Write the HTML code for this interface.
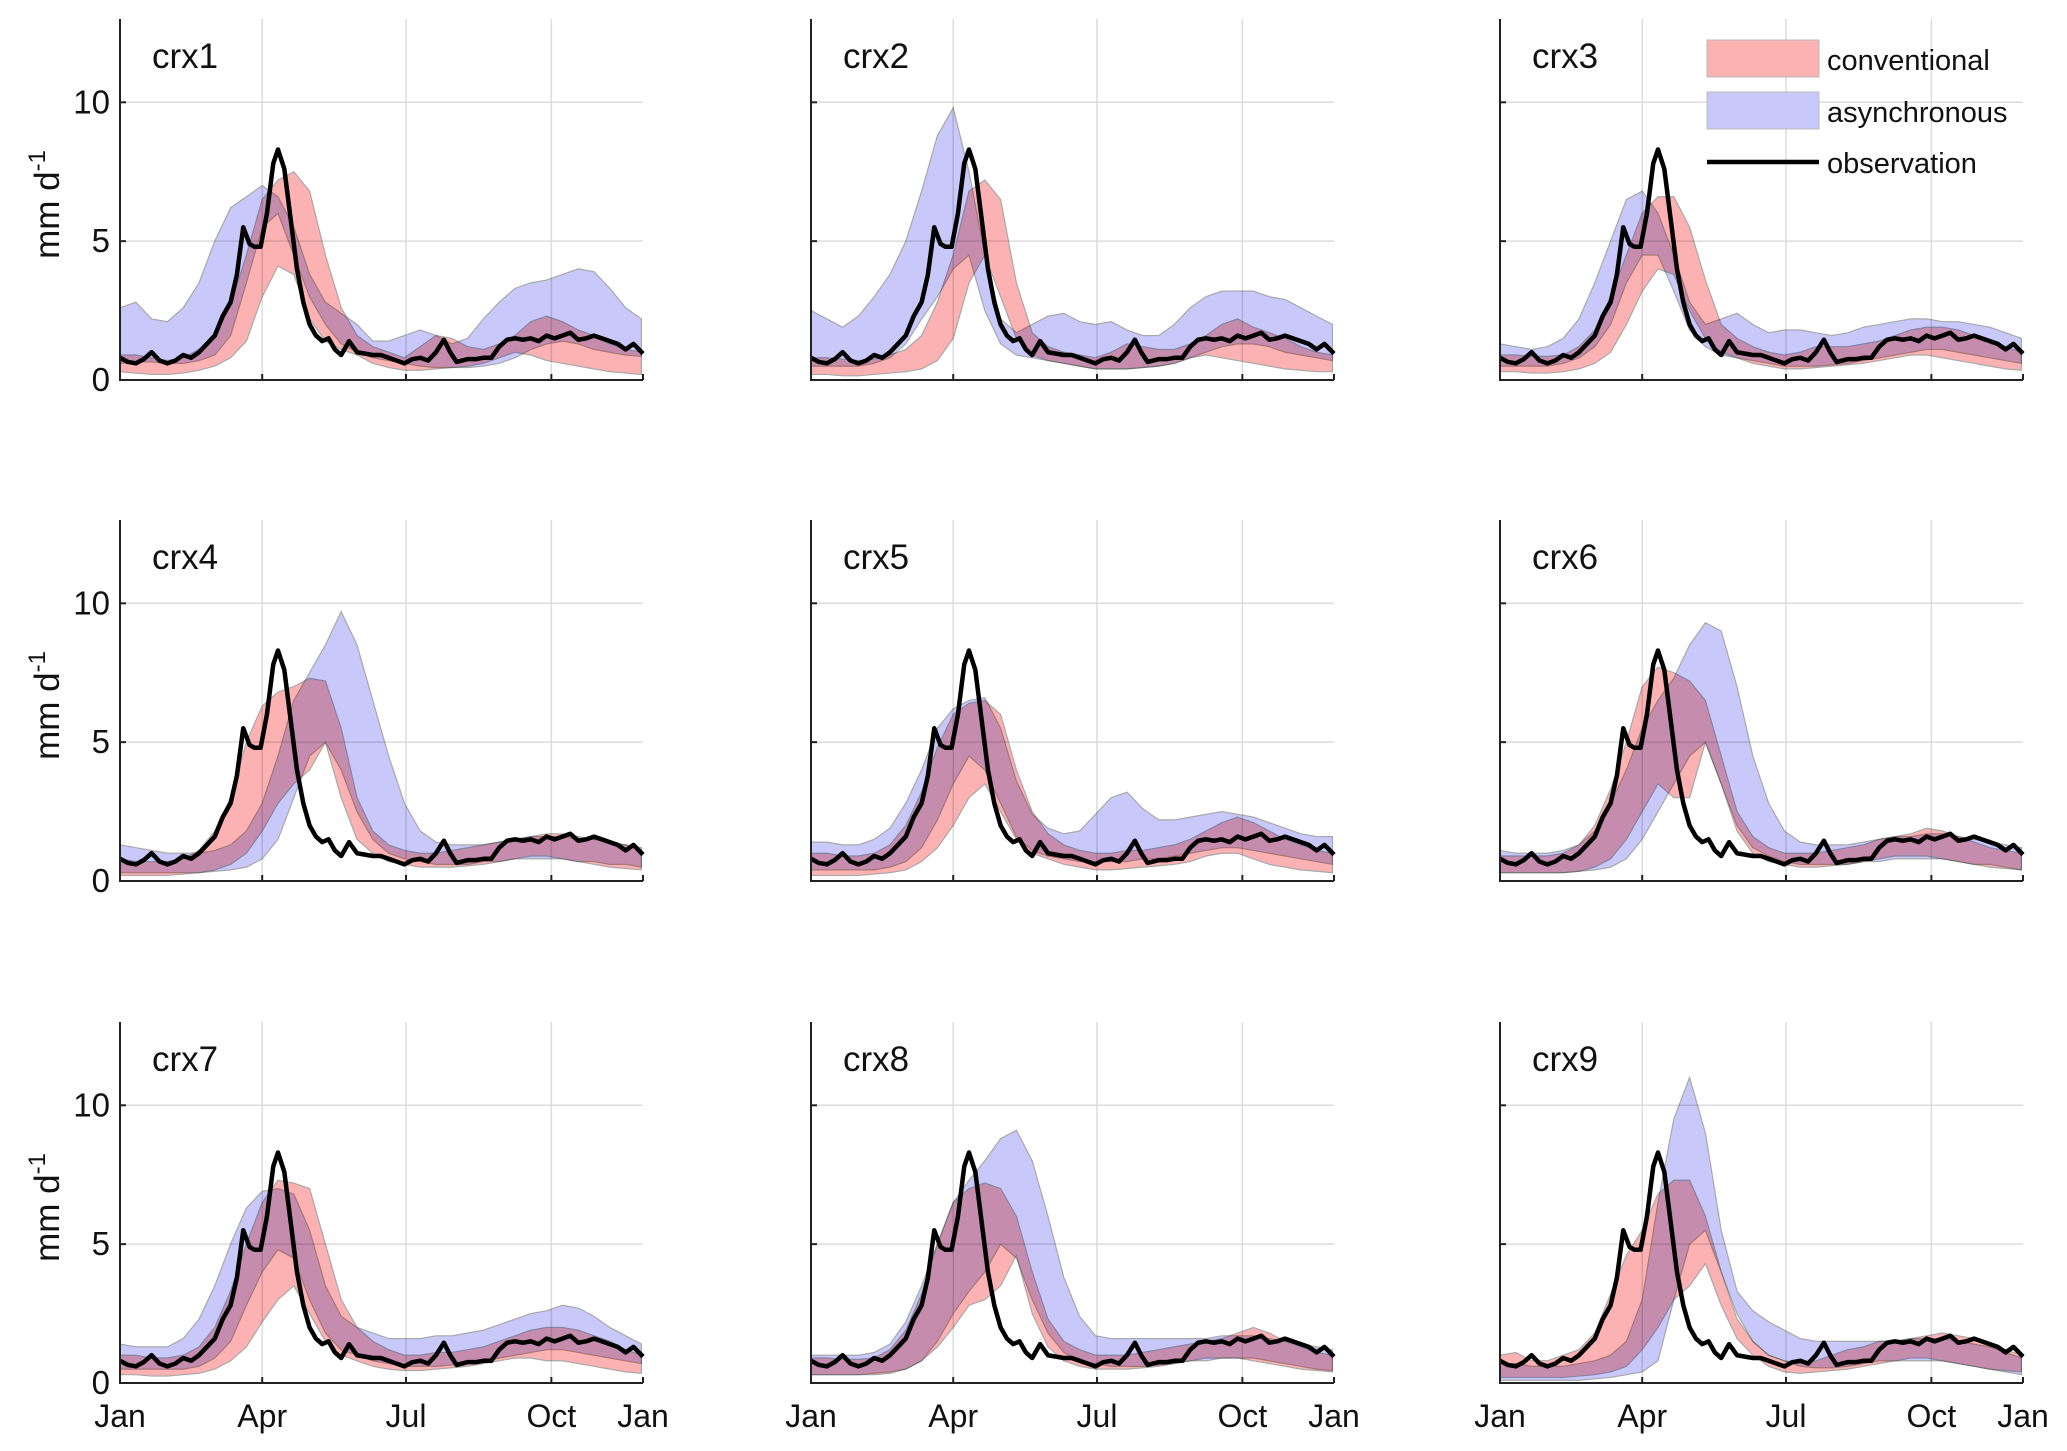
<!DOCTYPE html>
<html><head><meta charset="utf-8"><style>
html,body{margin:0;padding:0;background:#fff;}
svg{display:block;font-family:"Liberation Sans",Arial,sans-serif;}
.band{mix-blend-mode:multiply;}
</style></head><body>
<svg id="fig" width="2067" height="1451" viewBox="0 0 2067 1451" xmlns="http://www.w3.org/2000/svg"></svg>
<script>
const bandDays=[0,10,20,30,40,50,60,70,80,90,100,110,120,130,140,150,160,170,180,190,200,210,220,230,240,250,260,270,280,290,300,310,320,330];
const obsDays=[0,5,10,15,20,25,30,35,40,45,50,55,60,65,70,74,78,82,85,89,93,97,100,104,108,112,116,120,124,128,132,136,140,145,150,155,160,165,170,175,180,185,190,195,200,205,209,213,220,225,230,235,240,245,250,255,260,265,270,275,280,285,290,295,300,305,310,315,320,325,331];
const obsVals=[0.8,0.65,0.6,0.75,1.0,0.7,0.6,0.7,0.9,0.8,1.0,1.3,1.6,2.3,2.8,3.8,5.5,4.9,4.8,4.8,6.0,7.8,8.3,7.6,5.8,4.0,2.8,2.0,1.6,1.4,1.5,1.1,0.9,1.4,1.0,0.95,0.9,0.9,0.8,0.7,0.6,0.75,0.8,0.7,1.0,1.45,1.0,0.65,0.75,0.75,0.8,0.8,1.2,1.45,1.5,1.45,1.5,1.4,1.6,1.5,1.6,1.7,1.45,1.5,1.6,1.5,1.4,1.3,1.1,1.3,0.95];
const panelNames=["crx1","crx2","crx3","crx4","crx5","crx6","crx7","crx8","crx9"];
const convLo=[
[0.3,0.25,0.2,0.2,0.25,0.35,0.5,0.8,1.4,3.0,4.1,3.8,2.2,1.4,1.1,0.9,0.6,0.45,0.35,0.35,0.4,0.45,0.5,0.6,0.8,1.0,0.9,0.7,0.6,0.5,0.4,0.3,0.25,0.2],
[0.2,0.2,0.15,0.15,0.2,0.25,0.3,0.4,0.7,1.5,3.5,4.5,3.0,1.5,0.9,0.7,0.6,0.5,0.4,0.4,0.4,0.45,0.5,0.6,0.8,0.9,0.8,0.7,0.6,0.5,0.4,0.35,0.3,0.3],
[0.3,0.3,0.25,0.25,0.3,0.4,0.6,1.0,2.0,3.2,4.0,3.8,2.5,1.5,1.0,0.8,0.6,0.5,0.4,0.4,0.45,0.5,0.55,0.6,0.7,0.8,0.9,0.9,0.8,0.7,0.6,0.5,0.4,0.35],
[0.2,0.2,0.2,0.2,0.25,0.3,0.4,0.6,1.0,1.8,2.8,3.5,4.0,5.0,3.0,1.5,1.0,0.7,0.6,0.5,0.5,0.5,0.55,0.6,0.7,0.8,0.9,0.9,0.8,0.7,0.6,0.5,0.45,0.4],
[0.2,0.2,0.2,0.2,0.25,0.3,0.4,0.7,1.2,2.0,3.0,3.5,2.5,1.5,1.0,0.8,0.6,0.5,0.4,0.4,0.45,0.5,0.55,0.6,0.7,0.9,1.0,1.0,0.8,0.6,0.5,0.4,0.35,0.3],
[0.3,0.3,0.3,0.3,0.3,0.35,0.5,0.8,1.5,2.5,3.5,3.0,3.0,5.0,3.5,1.8,1.0,0.7,0.6,0.5,0.5,0.55,0.6,0.7,0.8,0.9,0.9,0.9,0.8,0.7,0.6,0.5,0.45,0.4],
[0.3,0.3,0.25,0.25,0.3,0.35,0.5,0.8,1.3,2.2,3.0,3.5,2.5,1.5,1.0,0.8,0.6,0.5,0.45,0.45,0.5,0.55,0.6,0.7,0.8,0.9,0.9,0.8,0.8,0.7,0.6,0.5,0.4,0.35],
[0.3,0.3,0.3,0.3,0.3,0.35,0.5,0.8,1.3,2.0,2.8,3.0,3.5,4.6,2.5,1.3,0.8,0.6,0.5,0.5,0.5,0.55,0.6,0.7,0.8,0.9,0.9,0.9,0.8,0.7,0.6,0.5,0.45,0.4],
[0.2,0.2,0.2,0.2,0.2,0.25,0.3,0.4,0.6,1.2,2.0,3.0,3.5,4.3,2.8,1.6,1.0,0.6,0.4,0.35,0.4,0.45,0.5,0.6,0.7,0.8,0.9,0.9,0.8,0.7,0.6,0.5,0.45,0.4]];
const convHi=[
[0.9,0.9,0.8,0.7,0.8,1.1,1.6,2.7,4.5,6.5,7.2,7.5,6.8,4.5,2.6,1.6,1.2,1.0,0.8,1.2,1.6,1.5,1.2,1.1,1.3,1.6,2.1,2.3,2.1,1.8,1.6,1.3,1.1,1.0],
[0.8,0.8,0.75,0.7,0.75,0.9,1.1,1.6,2.8,4.5,6.8,7.2,6.5,3.5,1.7,1.2,1.0,0.9,0.8,1.0,1.3,1.2,1.1,1.1,1.3,1.6,2.0,2.2,1.9,1.7,1.5,1.2,1.0,0.9],
[0.9,0.9,0.85,0.85,0.9,1.2,1.8,3.0,4.5,6.0,6.6,6.6,5.5,3.6,2.0,1.5,1.2,1.0,0.9,1.0,1.2,1.2,1.2,1.3,1.4,1.6,1.8,1.9,1.9,1.8,1.6,1.4,1.2,1.0],
[0.8,0.7,0.7,0.7,0.8,1.1,1.8,3.0,5.0,6.3,6.8,7.0,7.3,7.2,5.5,3.0,1.8,1.3,1.1,1.0,1.0,1.1,1.2,1.3,1.4,1.5,1.6,1.7,1.7,1.6,1.5,1.4,1.3,1.1],
[1.0,1.0,0.9,0.9,1.0,1.3,2.0,3.2,4.8,6.0,6.4,6.5,6.0,4.0,2.5,1.7,1.3,1.1,1.0,1.0,1.1,1.1,1.2,1.3,1.5,1.8,2.1,2.3,2.1,1.8,1.5,1.3,1.1,1.0],
[0.9,0.9,0.9,0.9,1.0,1.3,2.0,3.3,5.0,7.0,7.7,7.5,7.2,6.5,4.5,2.5,1.6,1.2,1.0,1.0,1.0,1.1,1.2,1.3,1.5,1.6,1.7,1.9,1.8,1.6,1.4,1.2,1.1,1.0],
[1.0,1.0,0.9,0.9,1.0,1.3,2.0,3.3,5.0,6.5,7.3,7.2,7.0,5.0,3.0,2.0,1.5,1.2,1.0,1.0,1.1,1.1,1.2,1.3,1.5,1.7,1.9,2.0,2.0,1.9,1.7,1.5,1.2,1.0],
[0.9,0.9,0.85,0.85,0.9,1.2,1.9,3.2,5.0,6.5,7.0,7.2,7.0,6.0,4.0,2.3,1.5,1.2,1.0,1.0,1.0,1.1,1.2,1.3,1.4,1.5,1.6,1.8,2.0,1.8,1.5,1.3,1.1,1.0],
[1.0,1.1,0.8,0.8,1.0,1.2,1.8,3.2,4.6,5.5,6.8,7.3,7.3,6.0,4.0,2.3,1.5,1.0,0.8,0.7,0.8,1.0,1.2,1.3,1.5,1.5,1.6,1.7,1.8,1.7,1.6,1.4,1.2,1.0]];
const asynLo=[
[0.6,0.65,0.65,0.6,0.6,0.7,0.9,1.6,3.5,5.5,6.0,4.5,3.0,2.0,1.3,1.0,0.8,0.7,0.6,0.5,0.45,0.45,0.45,0.5,0.6,0.8,1.1,1.3,1.4,1.3,1.1,1.0,0.9,0.85],
[0.5,0.5,0.5,0.5,0.6,0.8,1.3,2.2,3.0,4.0,4.5,2.5,1.3,0.9,0.8,0.7,0.6,0.5,0.4,0.4,0.4,0.45,0.5,0.6,0.8,1.0,1.2,1.3,1.3,1.2,1.0,0.9,0.8,0.7],
[0.5,0.5,0.5,0.5,0.6,0.8,1.2,2.0,3.5,4.5,4.5,3.2,1.8,1.2,0.9,0.8,0.7,0.6,0.5,0.5,0.5,0.55,0.6,0.7,0.8,0.9,1.0,1.1,1.1,1.0,0.9,0.8,0.7,0.6],
[0.3,0.3,0.3,0.3,0.3,0.3,0.35,0.4,0.5,0.8,1.5,3.0,4.5,5.0,4.0,2.5,1.5,1.0,0.8,0.7,0.6,0.6,0.6,0.7,0.7,0.8,0.8,0.8,0.8,0.7,0.7,0.6,0.6,0.5],
[0.4,0.4,0.4,0.4,0.4,0.5,0.7,1.2,2.2,3.5,4.5,4.0,2.8,1.6,1.1,0.9,0.8,0.7,0.7,0.7,0.7,0.8,0.8,0.9,1.0,1.1,1.2,1.2,1.1,1.0,0.9,0.8,0.7,0.6],
[0.3,0.3,0.3,0.3,0.3,0.35,0.4,0.5,0.8,1.5,2.5,3.5,4.5,5.0,3.5,2.0,1.2,0.9,0.7,0.6,0.6,0.6,0.6,0.7,0.7,0.8,0.8,0.8,0.8,0.7,0.6,0.6,0.5,0.4],
[0.5,0.5,0.5,0.5,0.5,0.6,0.9,1.5,2.8,4.0,4.8,4.5,3.0,1.8,1.2,1.0,0.8,0.7,0.6,0.6,0.6,0.65,0.7,0.8,0.9,1.0,1.1,1.2,1.2,1.1,1.0,0.9,0.8,0.7],
[0.3,0.3,0.3,0.3,0.35,0.4,0.5,0.8,1.5,2.5,3.3,4.0,5.0,4.5,3.0,1.8,1.1,0.8,0.7,0.6,0.6,0.6,0.65,0.7,0.8,0.8,0.9,0.9,0.9,0.8,0.7,0.6,0.5,0.45],
[0.1,0.1,0.1,0.1,0.1,0.1,0.15,0.2,0.3,0.4,0.8,3.0,5.0,5.5,4.0,2.5,1.5,1.0,0.8,0.6,0.55,0.55,0.6,0.7,0.8,0.8,0.8,0.8,0.8,0.7,0.6,0.5,0.4,0.3]];
const asynHi=[
[2.6,2.8,2.2,2.1,2.6,3.5,5.0,6.2,6.6,7.0,6.6,5.5,3.8,2.8,2.4,2.0,1.4,1.4,1.6,1.8,1.6,1.3,1.5,2.2,2.8,3.3,3.5,3.6,3.8,4.0,3.9,3.3,2.6,2.2],
[2.5,2.2,1.9,2.3,3.0,3.8,5.0,6.8,8.8,9.8,7.5,4.5,2.2,1.7,2.0,2.3,2.4,2.1,2.0,2.1,1.8,1.6,1.6,2.0,2.6,3.0,3.2,3.2,3.2,3.0,2.9,2.6,2.3,2.0],
[1.3,1.2,1.1,1.2,1.5,2.2,3.5,5.0,6.5,6.8,6.0,4.5,2.8,2.0,2.2,2.4,2.0,1.7,1.8,1.8,1.7,1.6,1.7,1.9,2.0,2.1,2.2,2.2,2.1,2.1,2.0,1.9,1.7,1.5],
[1.3,1.2,1.1,1.0,1.0,1.0,1.1,1.3,1.8,2.8,4.5,6.5,7.5,8.5,9.7,8.5,6.5,4.5,2.8,1.8,1.4,1.3,1.3,1.3,1.4,1.5,1.6,1.6,1.6,1.5,1.5,1.4,1.3,1.2],
[1.4,1.4,1.3,1.3,1.5,1.9,2.8,4.0,5.5,6.2,6.5,6.6,5.5,3.6,2.4,1.9,1.7,1.8,2.4,3.0,3.2,2.6,2.2,2.2,2.3,2.4,2.5,2.4,2.3,2.1,1.9,1.7,1.6,1.6],
[1.1,1.0,1.0,1.0,1.1,1.3,1.8,2.8,4.0,5.5,6.5,7.3,8.5,9.3,9.0,7.0,4.5,2.8,1.8,1.4,1.3,1.3,1.3,1.4,1.5,1.6,1.6,1.7,1.7,1.6,1.5,1.4,1.3,1.2],
[1.4,1.3,1.3,1.3,1.6,2.3,3.5,5.0,6.3,6.9,7.0,6.8,5.5,3.5,2.4,2.0,1.8,1.6,1.6,1.6,1.7,1.7,1.8,1.9,2.1,2.3,2.5,2.6,2.8,2.7,2.4,2.0,1.7,1.4],
[1.0,1.0,1.0,1.0,1.1,1.4,2.2,3.5,5.0,6.5,7.3,8.0,8.8,9.1,8.0,6.0,3.8,2.4,1.7,1.6,1.6,1.6,1.6,1.6,1.6,1.6,1.7,1.7,1.7,1.6,1.5,1.4,1.3,1.2],
[0.7,0.7,0.6,0.6,0.6,0.7,0.8,1.0,1.5,3.0,6.5,9.5,11.0,9.0,5.5,3.3,2.6,2.2,1.9,1.6,1.5,1.5,1.5,1.5,1.5,1.5,1.6,1.6,1.6,1.5,1.4,1.3,1.1,0.9]];
const xTickDays=[0,90,181,273,331];
const xTickLabels=["Jan","Apr","Jul","Oct","Jan"];
const yTicks=[0,5,10];

const NS="http://www.w3.org/2000/svg";
const svg=document.getElementById('fig');
function mk(tag,attrs,parent){const e=document.createElementNS(NS,tag);for(const k in attrs)e.setAttribute(k,attrs[k]);(parent||svg).appendChild(e);return e;}
const colLeft=[120,811,1500], W=523, rowBase=[380,881,1383], H=361, YMAX=13, XMAX=331;

panelNames.forEach((nm,i)=>{
  const c=i%3, r=Math.floor(i/3);
  const L=colLeft[c], B=rowBase[r];
  const sx=d=>L+d/XMAX*W, sy=v=>B-v/YMAX*H;
  const g=mk('g',{style:'isolation:isolate'});
  
  
  yTicks.slice(1).forEach(v=>{const l=mk('line',{x1:L,x2:L+W,y1:sy(v),y2:sy(v),stroke:'#dcdcdc','stroke-width':1.5},g);
    });
  xTickDays.slice(1,4).forEach(d=>{const l=mk('line',{x1:sx(d),x2:sx(d),y1:B-H,y2:B,stroke:'#dcdcdc','stroke-width':1.5},g);
    });
  function band(lo,hi,fill,name){
    let pts=bandDays.map((d,k)=>sx(d)+','+sy(hi[k]));
    for(let k=bandDays.length-1;k>=0;k--)pts.push(sx(bandDays[k])+','+sy(lo[k]));
    const p=mk('polygon',{class:'band',points:pts.join(' '),fill:fill,stroke:'#a8a8a8','stroke-width':1.2},g);
    
    
  }
  band(convLo[i],convHi[i],'#fcb2b2','conventional-band');
  band(asynLo[i],asynHi[i],'#c8c8fa','asynchronous-band');
  const ob=mk('polyline',{points:obsDays.map((d,k)=>sx(d)+','+sy(obsVals[k])).join(' '),fill:'none',stroke:'#000','stroke-width':4.5,'stroke-linejoin':'round'},g);
  
  
  const ax=mk('path',{d:`M${L},${B-H} V${B} H${L+W}`,fill:'none',stroke:'#222','stroke-width':2},g);
  
  
  yTicks.forEach(v=>{mk('line',{x1:L,x2:L+6,y1:sy(v),y2:sy(v),stroke:'#222','stroke-width':2},g);});
  xTickDays.forEach(d=>{mk('line',{x1:sx(d),x2:sx(d),y1:B,y2:B-6,stroke:'#222','stroke-width':2},g);});
  if(c===0){
    yTicks.forEach(v=>{const t=mk('text',{x:L-10,y:sy(v)+11,'text-anchor':'end','font-size':33,fill:'#111'},g);t.textContent=v;
      });
    const yl=mk('text',{transform:`translate(59,${B-H/2+5}) rotate(-90)`,'text-anchor':'middle','font-size':35,fill:'#111'},g);
    
    yl.innerHTML='mm d<tspan dy="-14" font-size="24">-1</tspan>';
  }
  if(r===2){
    xTickDays.forEach((d,k)=>{const t=mk('text',{x:sx(d),y:B+44,'text-anchor':'middle','font-size':32,fill:'#111'},g);t.textContent=xTickLabels[k];
      });
  }
  const tt=mk('text',{x:L+32,y:B-H+49,'font-size':35,fill:'#111'},g);
  tt.textContent=nm;
  
  
});
const lg=mk('g',{});


const r1=mk('rect',{x:1707,y:40,width:112,height:37,fill:'#fcb2b2',stroke:'#bbb','stroke-width':1},lg);

const r2=mk('rect',{x:1707,y:92,width:112,height:37,fill:'#c8c8fa',stroke:'#bbb','stroke-width':1},lg);

const l3=mk('line',{x1:1707,x2:1819,y1:162,y2:162,stroke:'#000','stroke-width':4.5},lg);

[["conventional",70],["asynchronous",122],["observation",173]].forEach(([s,y])=>{
  const t=mk('text',{x:1827,y:y,'font-size':29,fill:'#111'},lg);t.textContent=s;
  
});
</script>
</body></html>
